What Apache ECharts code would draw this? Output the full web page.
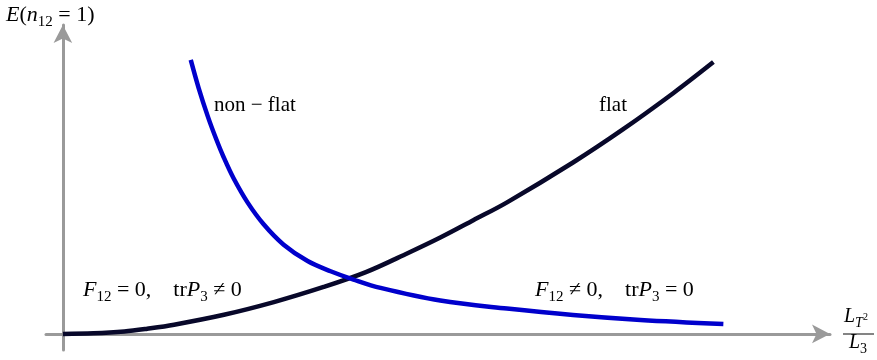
<!DOCTYPE html>
<html>
<head>
<meta charset="utf-8">
<script src="https://cdn.jsdelivr.net/npm/echarts@6/dist/echarts.min.js"></script>
<style>
  html, body { margin: 0; padding: 0; background: #fff; }
  #chart { width: 877px; height: 360px; }
</style>
</head>
<body>
<div id="chart"></div>
<script>
// no ticks on the picture, so units are arbitrary: x 0..10, y 0..10
var flatX = [0, 0.4, 0.8, 1.1, 1.45, 2.1, 2.75, 3.4, 3.95, 4.5, 4.92, 5.35, 5.79, 6.65, 7.30, 7.96, 8.48];
var flatY = [0, 0.02, 0.08, 0.17, 0.30, 0.62, 1.03, 1.52, 2.00, 2.62, 3.12, 3.68, 4.26, 5.55, 6.62, 7.80, 8.80];
var nonFlatX = [1.667, 1.771, 1.888, 1.992, 2.096, 2.227, 2.409, 2.617, 2.878, 3.19, 3.49, 3.789, 4.141, 4.92, 5.79, 6.65, 7.53, 8.61];
var nonFlatY = [8.87, 7.95, 7.05, 6.35, 5.72, 5.03, 4.25, 3.55, 2.89, 2.36, 2.03, 1.76, 1.49, 1.08, 0.82, 0.61, 0.45, 0.32];

var FONT = 'Liberation Serif';
var axisGrey = '#9a9a9a';

function pairs(xs, ys) {
    return xs.map(function (x, i) { return [x, ys[i]]; });
}

// rich text pieces for math-ish labels
function richStyles(color, size) {
    var sub = Math.round(size * 0.7);
    var lh = Math.round(size * 1.3);
    return {
        r: { fontFamily: FONT, fontSize: size, lineHeight: lh, verticalAlign: 'middle', color: color },
        i: { fontFamily: FONT, fontSize: size, fontStyle: 'italic', lineHeight: lh, verticalAlign: 'middle', color: color },
        s: { fontFamily: FONT, fontSize: sub, lineHeight: sub, verticalAlign: 'bottom', color: color },
        si: { fontFamily: FONT, fontSize: sub, fontStyle: 'italic', lineHeight: sub, verticalAlign: 'bottom', color: color },
        sup: { fontFamily: FONT, fontSize: Math.round(size * 0.5), lineHeight: 10, verticalAlign: 'middle', color: color },
        q: { width: 22 }
    };
}

var chart = echarts.init(document.getElementById('chart'));

chart.setOption({
    animation: false,
    grid: { left: 46, right: 47, top: 25, bottom: 10 },
    xAxis: {
        type: 'value',
        min: -0.22,
        max: 10,
        axisLine: {
            onZero: true,
            symbol: ['none', 'arrow'],
            symbolSize: [14, 18],
            lineStyle: { color: axisGrey, width: 3 }
        },
        axisTick: { show: false },
        axisLabel: { show: false },
        splitLine: { show: false }
    },
    yAxis: {
        type: 'value',
        min: -0.52,
        max: 10,
        axisLine: {
            show: true,
            onZero: true,
            symbol: ['none', 'arrow'],
            symbolSize: [14, 18],
            lineStyle: { color: axisGrey, width: 3 }
        },
        axisTick: { show: false },
        axisLabel: { show: false },
        splitLine: { show: false }
    },
    series: [
        {
            name: 'flat',
            type: 'line',
            smooth: 0.35,
            showSymbol: false,
            lineStyle: { color: '#08082a', width: 4.5 },
            data: pairs(flatX, flatY)
        },
        {
            name: 'non-flat',
            type: 'line',
            smooth: 0.35,
            showSymbol: false,
            lineStyle: { color: '#0000cc', width: 4.5 },
            data: pairs(nonFlatX, nonFlatY)
        }
    ],
    graphic: [
        {
            type: 'text', left: 6, top: 4,
            style: {
                text: '{i|E}{r|(}{i|n}{s|12}{r| = 1)}',
                rich: richStyles('#111', 22)
            }
        },
        {
            type: 'text', left: 214, top: 95,
            style: {
                text: '{r|non − flat}',
                rich: richStyles('#2a2ac4', 21)
            }
        },
        {
            type: 'text', left: 599, top: 95,
            style: {
                text: '{r|flat}',
                rich: richStyles('#111', 21)
            }
        },
        {
            type: 'text', left: 83, top: 279,
            style: {
                text: '{i|F}{s|12}{r| = 0,}{q|}{r|tr}{i|P}{s|3}{r| ≠ 0}',
                rich: richStyles('#111', 22)
            }
        },
        {
            type: 'text', left: 535, top: 279,
            style: {
                text: '{i|F}{s|12}{r| ≠ 0,}{q|}{r|tr}{i|P}{s|3}{r| = 0}',
                rich: richStyles('#2a2ac4', 22)
            }
        },
        {
            type: 'text', left: 844, top: 307,
            style: {
                text: '{i|L}{si|T}{sup|2}',
                rich: richStyles('#333', 20)
            }
        },
        {
            type: 'line',
            shape: { x1: 843, y1: 334, x2: 874, y2: 334 },
            style: { stroke: '#333', lineWidth: 1.2 }
        },
        {
            type: 'text', left: 849, top: 333,
            style: {
                text: '{i|L}{s|3}',
                rich: richStyles('#333', 20)
            }
        }
    ]
});
</script>
</body>
</html>
